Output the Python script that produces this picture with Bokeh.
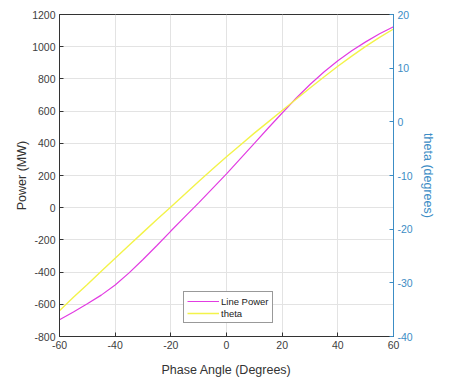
from bokeh.plotting import figure
from bokeh.models import LinearAxis, Range1d, Legend, LegendItem, FixedTicker, PrintfTickFormatter
from bokeh.embed import file_html
from bokeh.resources import INLINE

phase = [-60, -55, -50, -45, -40, -35, -30, -25, -20, -15, -10, -5, 0,
         5, 10, 15, 20, 25, 30, 35, 40, 45, 50, 55, 60]
line_power = [-696, -648, -597, -543, -480, -405, -322, -235, -145, -57, 30, 120, 210,
              305, 400, 495, 588, 680, 765, 843, 913, 975, 1030, 1080, 1124]
theta = [-35.2, -32.7, -30.3, -27.85, -25.4, -23.0, -20.6, -18.2, -15.85, -13.5, -11.1, -8.8, -6.5,
         -4.3, -2.1, 0.0, 2.1, 4.2, 6.3, 8.35, 10.35, 12.25, 14.05, 15.75, 17.3]

x_ticks = [-60, -40, -20, 0, 20, 40, 60]
left_ticks = [-800, -600, -400, -200, 0, 200, 400, 600, 800, 1000, 1200]
right_ticks = [-40, -30, -20, -10, 0, 10, 20]

FONT = "Liberation Sans"
BLUE = "#3c8dc5"
DARK = "#404040"

p = figure(width=451, height=381, output_backend="svg", toolbar_location=None,
           x_range=Range1d(-60, 60), y_range=Range1d(-800, 1200),
           min_border_left=59, min_border_right=58, min_border_top=14, min_border_bottom=45)
p.extra_y_ranges = {"theta": Range1d(-40, 20)}

p.outline_line_color = "#333333"
p.outline_line_width = 1
p.background_fill_color = "white"
p.border_fill_color = "white"

p.xgrid.grid_line_color = "#e3e3e3"
p.ygrid.grid_line_color = "#e3e3e3"
p.xaxis.ticker = FixedTicker(ticks=x_ticks)
p.yaxis.ticker = FixedTicker(ticks=left_ticks)
p.xgrid.ticker = FixedTicker(ticks=x_ticks)
p.ygrid.ticker = FixedTicker(ticks=left_ticks)

for ax in (p.xaxis[0], p.yaxis[0]):
    ax.formatter = PrintfTickFormatter(format="%d")
    ax.major_tick_in = 4
    ax.major_tick_out = 0
    ax.minor_tick_line_color = None
    ax.axis_line_color = "#333333"
    ax.major_tick_line_color = "#333333"
    ax.major_label_text_font = FONT
    ax.major_label_text_font_size = "10.5px"
    ax.major_label_text_color = DARK
    ax.axis_label_text_font = FONT
    ax.axis_label_text_font_style = "normal"
    ax.axis_label_text_color = "#333333"
    ax.axis_label_text_font_size = "12.5px"

p.xaxis.axis_label = "Phase Angle (Degrees)"
p.yaxis.axis_label = "Power (MW)"
p.xaxis.axis_label_standoff = 11
p.yaxis.axis_label_standoff = 0
p.xaxis.major_label_standoff = 4
p.yaxis.major_label_standoff = 4

right = LinearAxis(y_range_name="theta", ticker=FixedTicker(ticks=right_ticks),
                   axis_label="theta (degrees)")
right.formatter = PrintfTickFormatter(format="%d")
right.major_tick_in = 4
right.major_tick_out = 0
right.minor_tick_line_color = None
right.axis_line_color = BLUE
right.major_tick_line_color = BLUE
right.major_label_text_color = BLUE
right.major_label_text_font = FONT
right.major_label_text_font_size = "10.5px"
right.axis_label_text_color = BLUE
right.axis_label_text_font = FONT
right.axis_label_text_font_style = "normal"
right.axis_label_text_font_size = "12.5px"
right.axis_label_standoff = 5
right.major_label_standoff = 4
p.add_layout(right, "right")

r1 = p.line(phase, line_power, line_color="#e23ce2", line_width=1.2)
r2 = p.line(phase, theta, line_color="#f3f34a", line_width=1.4, y_range_name="theta")

legend = Legend(items=[LegendItem(label="Line Power", renderers=[r1]),
                       LegendItem(label="theta", renderers=[r2])],
                location=(124, 13))
legend.label_text_font = FONT
legend.label_text_font_size = "9.5px"
legend.label_text_color = "#222222"
legend.glyph_width = 32
legend.glyph_height = 12
legend.label_height = 12
legend.spacing = 0
legend.padding = 3
legend.margin = 0
legend.label_standoff = 2
legend.border_line_color = "#333333"
legend.background_fill_alpha = 1
p.add_layout(legend, "center")

open("out.html", "w").write(file_html(p, INLINE))
